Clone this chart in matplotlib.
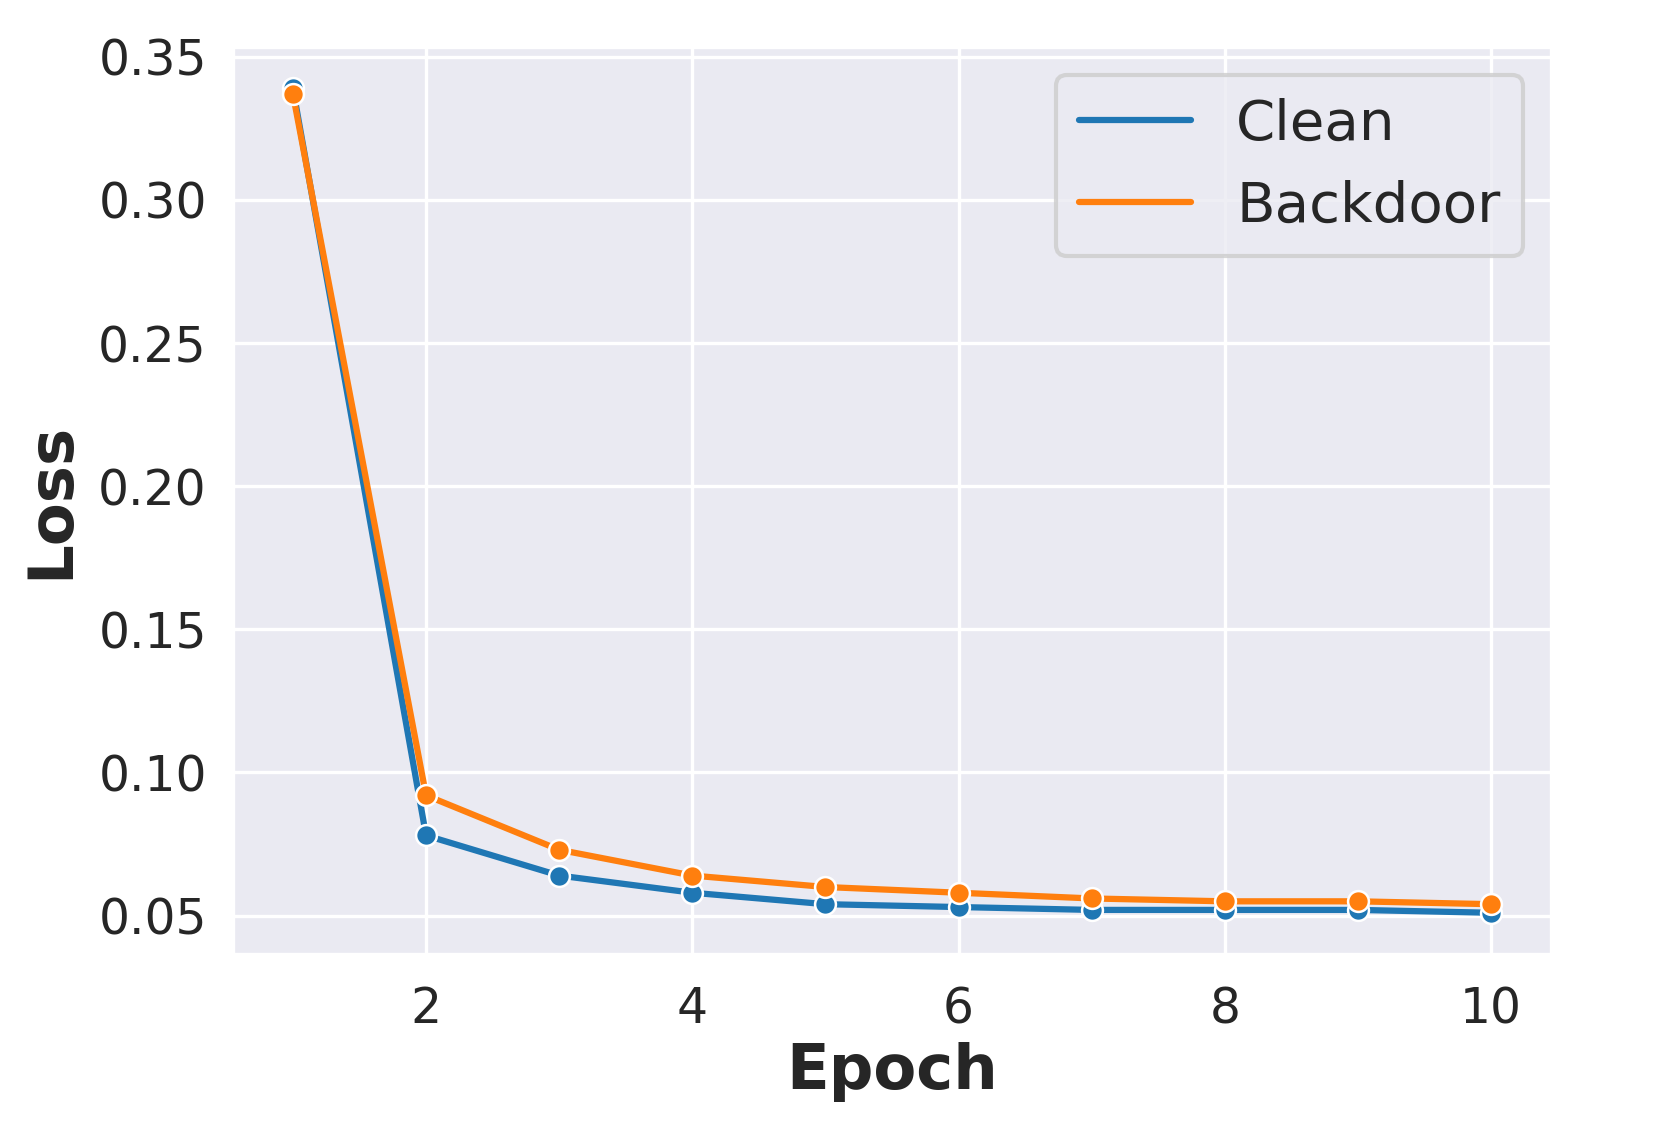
import numpy as np
import matplotlib
matplotlib.use("Agg")
import matplotlib.pyplot as plt
import seaborn as sns
from matplotlib.lines import Line2D

# Loss por época
epochs = [1, 2, 3, 4, 5, 6, 7, 8, 9, 10]
clean_loss = [0.339, 0.078, 0.064, 0.058, 0.054, 0.053, 0.052, 0.052, 0.052, 0.051]
backdoor_loss = [0.337, 0.092, 0.073, 0.064, 0.060, 0.058, 0.056, 0.055, 0.055, 0.054]
series_names = ["Clean", "Backdoor"]

sns.set_style("darkgrid")
plt.rcParams['font.family'] = ['DejaVu Sans']

fig = plt.figure(figsize=(1661 / 300, 1125 / 300), dpi=300)
ax = fig.add_axes([233 / 1661, 1 - 954 / 1125, (1551 - 233) / 1661, (954 - 47) / 1125])

colors = ["#1f77b4", "#ff7f0e"]
for vals, c in zip([clean_loss, backdoor_loss], colors):
    ax.plot(epochs, vals, color=c, lw=1.5, marker='o', markersize=5,
            markeredgecolor='white', markeredgewidth=0.6)

ax.set_xticks([2, 4, 6, 8, 10])
ax.set_yticks([0.05, 0.10, 0.15, 0.20, 0.25, 0.30, 0.35])
ax.tick_params(labelsize=11.7, colors='#262626')
ax.tick_params(axis='y', pad=2.8)
ax.tick_params(axis='x', pad=4)
ax.set_xlabel("Epoch", fontsize=15, fontweight='bold', color='#262626', labelpad=2)
ax.set_ylabel("Loss", fontsize=15, fontweight='bold', color='#262626', labelpad=4)

handles = [Line2D([0], [0], color=c, lw=1.5) for c in colors]
ax.legend(handles, series_names, loc='upper right', fontsize=13.5)

fig.savefig("out.png", dpi=300)
